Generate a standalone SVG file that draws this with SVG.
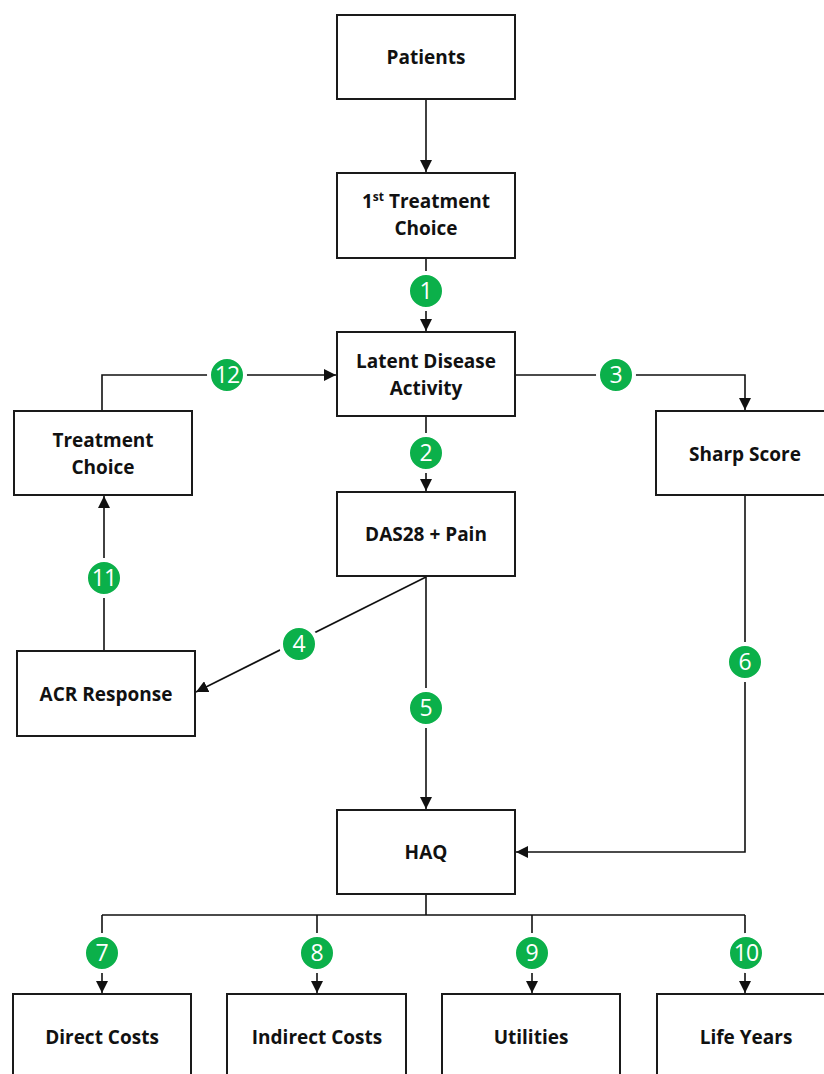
<svg xmlns="http://www.w3.org/2000/svg" width="824" height="1074" viewBox="0 0 824 1074">
<style>
.box{fill:#fff;stroke:#1a1a1a;stroke-width:2}
.lbl{font-family:"Open Sans","Liberation Sans",sans-serif;font-weight:700;font-size:19px;fill:#111;text-anchor:middle}
.ln{fill:none;stroke:#111;stroke-width:1.6}
.bd{fill:#0bb04a;stroke:#fff;stroke-width:4}
.bt{font-family:"Open Sans","Liberation Sans",sans-serif;font-size:23px;fill:#fff;text-anchor:middle}
</style>
<defs>
<marker id="ah" viewBox="0 0 12 12" refX="12" refY="6" markerWidth="12" markerHeight="12" markerUnits="userSpaceOnUse" orient="auto">
<path d="M0,0 L12,6 L0,12 Z" fill="#111"/>
</marker>
</defs>
<rect width="824" height="1074" fill="#fff"/>
<g id="connectors">
<path class="ln" d="M426,99 V172" marker-end="url(#ah)"/>
<path class="ln" d="M426,258 V331" marker-end="url(#ah)"/>
<path class="ln" d="M426,416 V491" marker-end="url(#ah)"/>
<path class="ln" d="M102,411 V375 H336" marker-end="url(#ah)"/>
<path class="ln" d="M515,375 H745 V410" marker-end="url(#ah)"/>
<path class="ln" d="M426,577 L196,692" marker-end="url(#ah)"/>
<path class="ln" d="M426,577 V809" marker-end="url(#ah)"/>
<path class="ln" d="M745,495 V852 H516" marker-end="url(#ah)"/>
<path class="ln" d="M104,651 V496" marker-end="url(#ah)"/>
<path class="ln" d="M426,894 V915 M102,915 H745"/>
<path class="ln" d="M102,915 V993" marker-end="url(#ah)"/>
<path class="ln" d="M317,915 V993" marker-end="url(#ah)"/>
<path class="ln" d="M532,915 V993" marker-end="url(#ah)"/>
<path class="ln" d="M745,915 V993" marker-end="url(#ah)"/>
</g>
<g id="badges">
<g id="b1"><circle class="bd" cx="426" cy="291" r="18"/><text class="bt" x="426" y="299">1</text></g>
<g id="b2"><circle class="bd" cx="426" cy="453" r="18"/><text class="bt" x="426" y="461">2</text></g>
<g id="b3"><circle class="bd" cx="616" cy="375" r="18"/><text class="bt" x="616" y="383">3</text></g>
<g id="b4"><circle class="bd" cx="299" cy="644" r="18"/><text class="bt" x="299" y="652">4</text></g>
<g id="b5"><circle class="bd" cx="426" cy="708" r="18"/><text class="bt" x="426" y="716">5</text></g>
<g id="b6"><circle class="bd" cx="745" cy="662" r="18"/><text class="bt" x="745" y="670">6</text></g>
<g id="b7"><circle class="bd" cx="102" cy="953" r="18"/><text class="bt" x="102" y="961">7</text></g>
<g id="b8"><circle class="bd" cx="317" cy="953" r="18"/><text class="bt" x="317" y="961">8</text></g>
<g id="b9"><circle class="bd" cx="532" cy="953" r="18"/><text class="bt" x="532" y="961">9</text></g>
<g id="b10"><circle class="bd" cx="746" cy="953" r="18"/><text class="bt" x="746" y="961" letter-spacing="-1">10</text></g>
<g id="b11"><circle class="bd" cx="104" cy="578" r="18"/><text class="bt" x="104" y="586" letter-spacing="-1">11</text></g>
<g id="b12"><circle class="bd" cx="227" cy="375" r="18"/><text class="bt" x="227" y="383" letter-spacing="-1">12</text></g>
</g>
<g id="patients"><rect class="box" x="337" y="15" width="178" height="84"/><text class="lbl" x="426" y="64">Patients</text></g>
<g id="first-treatment"><rect class="box" x="337" y="173" width="178" height="85"/><text class="lbl" x="426" y="208">1<tspan font-size="12" dy="-7">st</tspan><tspan dy="7"> Treatment</tspan></text><text class="lbl" x="426" y="235">Choice</text></g>
<g id="latent"><rect class="box" x="337" y="332" width="178" height="84"/><text class="lbl" x="426" y="368">Latent Disease</text><text class="lbl" x="426" y="395">Activity</text></g>
<g id="treatment-choice"><rect class="box" x="14" y="411" width="178" height="84"/><text class="lbl" x="103" y="447">Treatment</text><text class="lbl" x="103" y="474">Choice</text></g>
<g id="sharp"><rect class="box" x="656" y="411" width="178" height="84"/><text class="lbl" x="745" y="461">Sharp Score</text></g>
<g id="das28"><rect class="box" x="337" y="492" width="178" height="84"/><text class="lbl" x="426" y="541">DAS28 + Pain</text></g>
<g id="acr"><rect class="box" x="17" y="651" width="178" height="85"/><text class="lbl" x="106" y="701">ACR Response</text></g>
<g id="haq"><rect class="box" x="337" y="810" width="178" height="84"/><text class="lbl" x="426" y="859">HAQ</text></g>
<g id="direct"><rect class="box" x="13" y="994" width="178" height="100"/><text class="lbl" x="102" y="1044">Direct Costs</text></g>
<g id="indirect"><rect class="box" x="227" y="994" width="179" height="100"/><text class="lbl" x="317" y="1044">Indirect Costs</text></g>
<g id="utilities"><rect class="box" x="442" y="994" width="178" height="100"/><text class="lbl" x="531" y="1044">Utilities</text></g>
<g id="life"><rect class="box" x="657" y="994" width="178" height="100"/><text class="lbl" x="746" y="1044">Life Years</text></g>
</svg>
